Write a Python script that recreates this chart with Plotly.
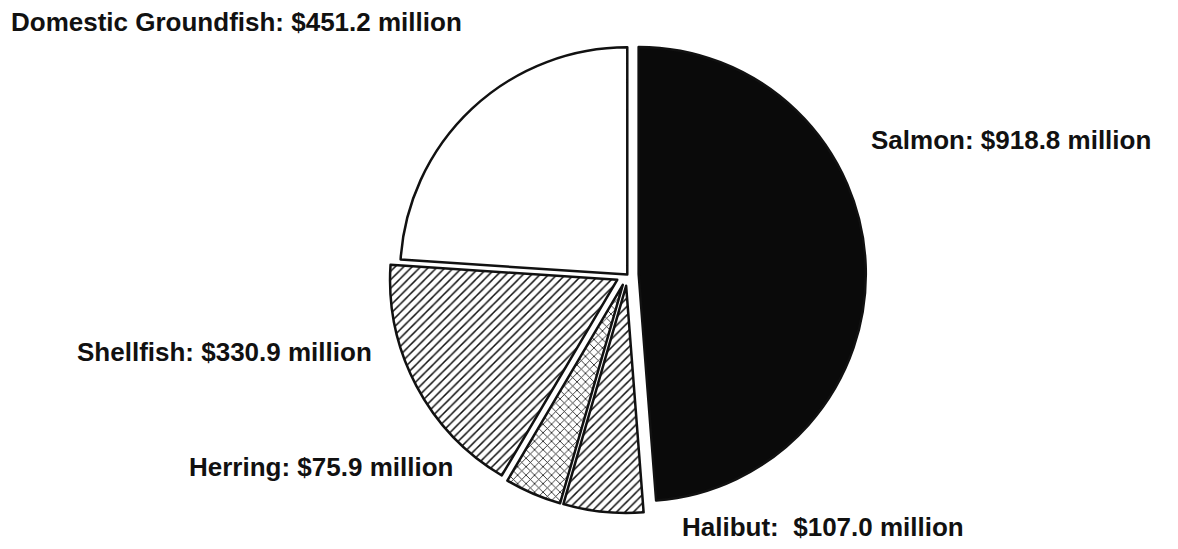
import plotly.graph_objects as go

categories = ["Salmon", "Halibut", "Herring", "Shellfish", "Domestic Groundfish"]
values = [918.8, 107.0, 75.9, 330.9, 451.2]
label_text = ["Salmon: $918.8 million", "Halibut:  $107.0 million", "Herring: $75.9 million",
              "Shellfish: $330.9 million", "Domestic Groundfish: $451.2 million"]

fig = go.Figure(go.Pie(
    labels=categories, values=values, sort=False, direction="clockwise", rotation=0,
    pull=[0.05, 0.05, 0.05, 0.05, 0.0],
    textinfo="none", hoverinfo="label+value",
    marker=dict(
        colors=["#0a0a0a", "white", "white", "white", "white"],
        line=dict(color="#111", width=2.5),
        pattern=dict(shape=["", "/", "x", "/", ""], fgcolor="#111", size=6, solidity=0.25),
    ),
    domain=dict(x=[0.33, 0.735], y=[0.0, 1.0]),
    showlegend=False,
))

label_pos = [(0.738, 0.745), (0.577, 0.040), (0.159, 0.149), (0.064, 0.359), (0.008, 0.96)]
for t, (x, y) in zip(label_text, label_pos):
    fig.add_annotation(text="<b>" + t + "</b>", x=x, y=y, xref="paper", yref="paper",
                       xanchor="left", yanchor="middle", showarrow=False,
                       font=dict(family="Liberation Sans", size=26, color="#111"))

fig.update_layout(width=1178, height=549, margin=dict(l=0, r=0, t=0, b=0),
                  paper_bgcolor="white", plot_bgcolor="white",
                  font=dict(family="Liberation Sans", size=26, color="#111"))
fig.write_html("out.html")
